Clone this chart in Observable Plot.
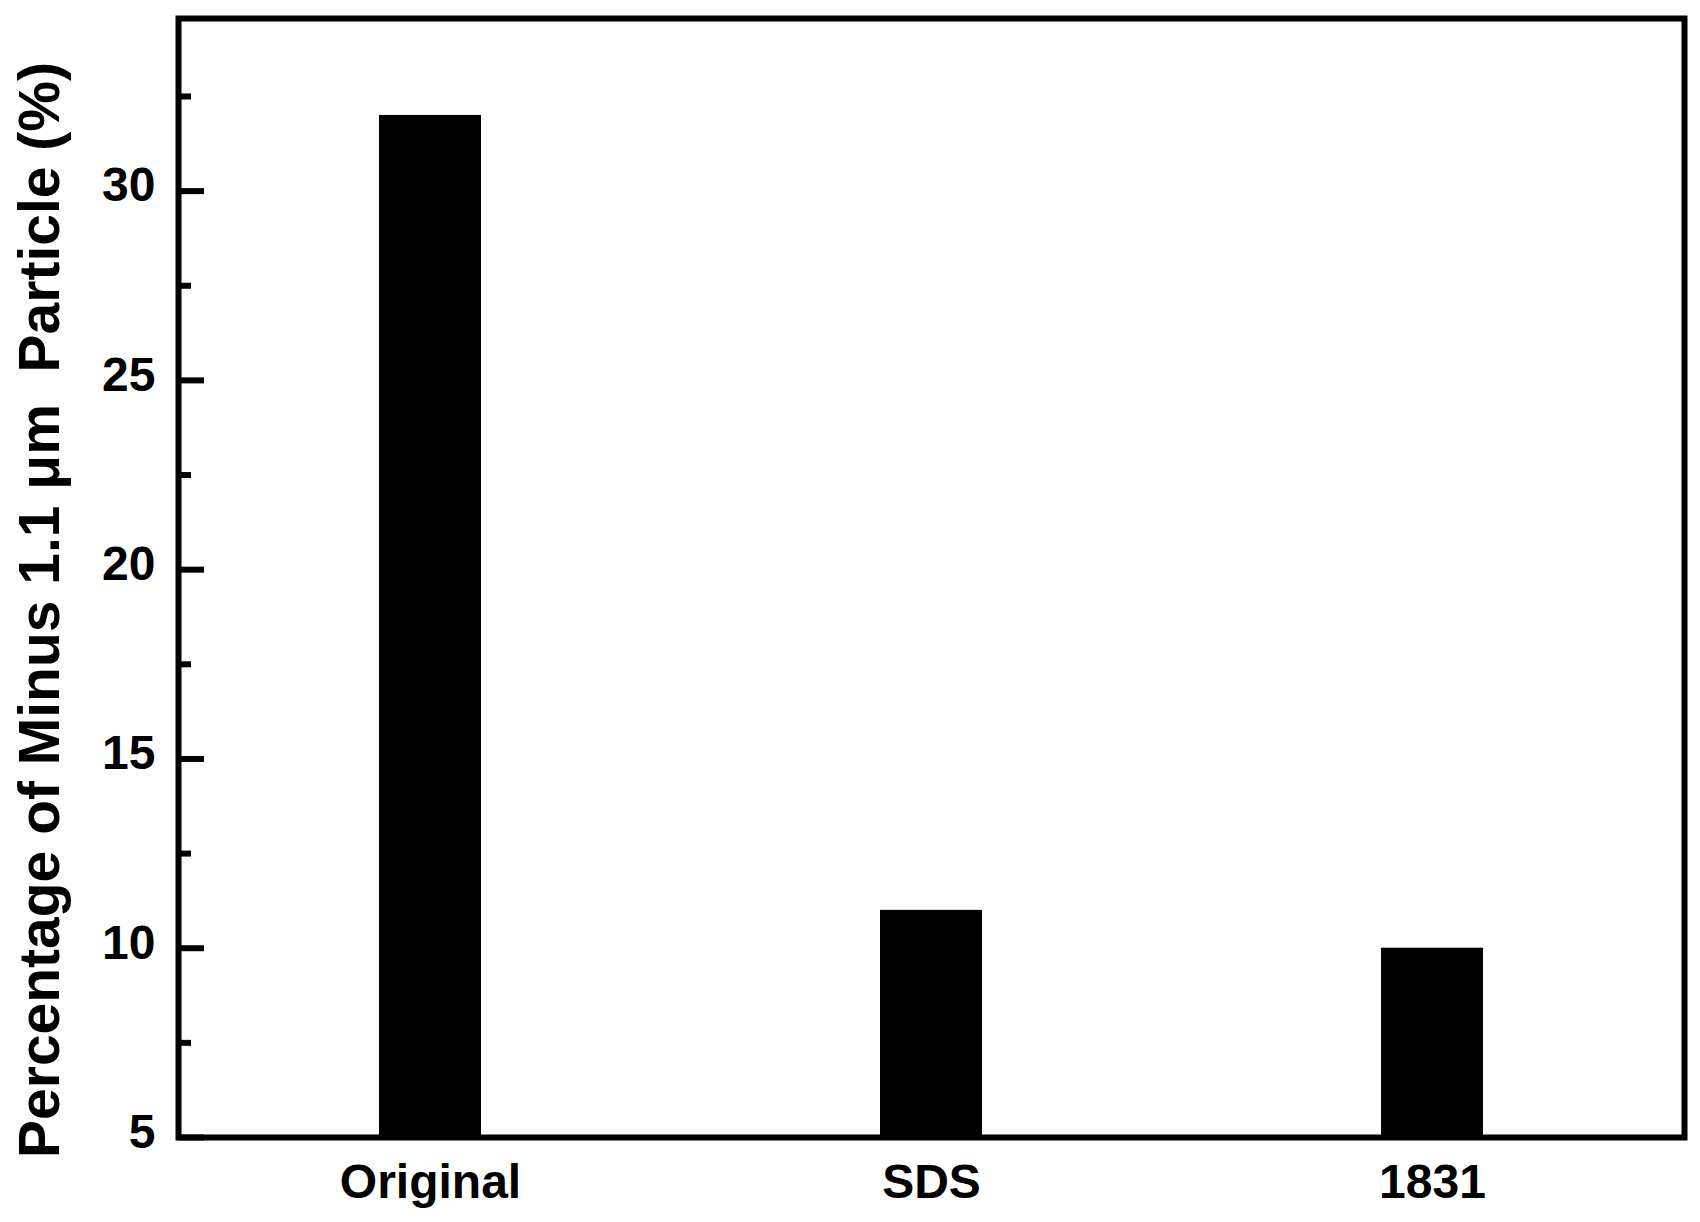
<!DOCTYPE html>
<html>
<head>
<meta charset="utf-8">
<script src="https://cdn.jsdelivr.net/npm/d3@7"></script>
<script src="https://cdn.jsdelivr.net/npm/@observablehq/plot@0.6"></script>
<style>
  html, body { margin: 0; padding: 0; background: #fff; }
</style>
</head>
<body>
<div id="chart"></div>
<script>
const categories = ["Original", "SDS", "1831"];
const values = [32.0, 11.0, 10.0];
const majorTicks = [5, 10, 15, 20, 25, 30];
const minorTicks = [7.5, 12.5, 17.5, 22.5, 27.5, 32.5];
const yTitle = "Percentage of Minus 1.1 μm\u00A0\u00A0Particle (%)";

const data = categories.map((c, i) => ({category: c, value: values[i]}));

const chart = Plot.plot({
  width: 1700,
  height: 1222,
  marginLeft: 178,
  marginRight: 16,
  marginTop: 18,
  marginBottom: 85,
  style: {
    fontFamily: "'Liberation Sans', Arial, sans-serif",
    fontWeight: "bold",
    background: "#fff",
    color: "#000"
  },
  x: {domain: categories, paddingInner: 0.796, paddingOuter: 0.40, align: 0.5},
  y: {domain: [5, 34.56]},
  marks: [
    Plot.barY(data, {x: "category", y: "value", fill: "black", clip: true}),
    Plot.axisY(majorTicks, {tickSize: 0, tickPadding: 23, fontSize: 48, fontWeight: "bold", dy: -5, label: null}),
    Plot.axisY(majorTicks, {tickSize: -26, tickFormat: () => "", strokeWidth: 6, label: null}),
    Plot.axisY(minorTicks, {tickSize: -13, tickFormat: () => "", strokeWidth: 6, label: null}),
    Plot.axisX({tickSize: 0, tickPadding: 26, fontSize: 48, fontWeight: "bold", label: null}),
    Plot.frame({stroke: "black", strokeWidth: 6}),
    Plot.text([yTitle], {frameAnchor: "left", rotate: -90, dx: -138, dy: 32, fontSize: 57, fontWeight: "bold", textAnchor: "middle", fill: "black"})
  ]
});
document.getElementById("chart").appendChild(chart);
</script>
</body>
</html>
